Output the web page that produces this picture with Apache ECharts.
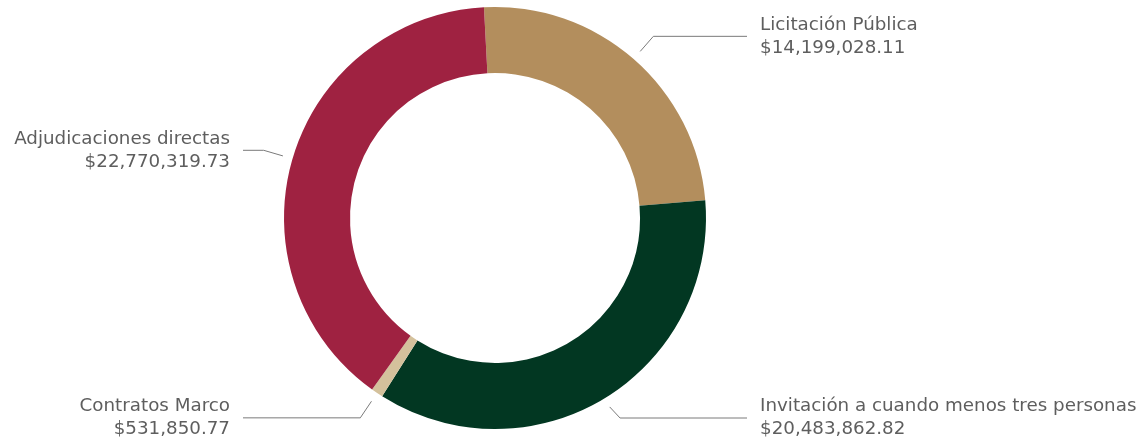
<!DOCTYPE html>
<html>
<head>
<meta charset="utf-8">
<script src="https://cdn.jsdelivr.net/npm/echarts@6/dist/echarts.min.js"></script>
<style>
html, body { margin: 0; padding: 0; background: #fff; }
#chart { width: 1141px; height: 442px; }
</style>
</head>
<body>
<div id="chart"></div>
<script>
// tipos de procedimiento y montos
var categories = ['Licitación Pública', 'Invitación a cuando menos tres personas', 'Contratos Marco', 'Adjudicaciones directas'];
var amounts = [14199028.11, 20483862.82, 531850.77, 22770319.73];
var colors = ['#B38E5D', '#023722', '#D4C19C', '#9F2241'];

var startAngle = 93;
var labelR = 221, lineLen = 20, lineReach = 252;

function money(v) {
    return '$' + v.toLocaleString('en-US', {minimumFractionDigits: 2, maximumFractionDigits: 2});
}

// largo del tramo horizontal para que todas las lineas de un lado terminen igual
var total = amounts.reduce(function (a, b) { return a + b; }, 0);
var acc = 0;
var pieData = [], labelData = [];
for (var i = 0; i < categories.length; i++) {
    var mid = (startAngle - 360 * (acc + amounts[i] / 2) / total) * Math.PI / 180;
    acc += amounts[i];
    var bendX = Math.abs(Math.cos(mid)) * (labelR + lineLen);
    pieData.push({name: categories[i], value: amounts[i], itemStyle: {color: colors[i]}});
    labelData.push({
        name: categories[i],
        value: amounts[i],
        labelLine: {length2: Math.max(lineReach - bendX, 0)}
    });
}

var myChart = echarts.init(document.getElementById('chart'));
myChart.setOption({
    animation: false,
    series: [{
        type: 'pie',
        center: [495, 218],
        radius: [145, 211],
        startAngle: startAngle,
        clockwise: true,
        silent: true,
        label: {show: false},
        labelLine: {show: false},
        data: pieData
    }, {
        // solo etiquetas, un poco separadas del anillo
        type: 'pie',
        center: [495, 218],
        radius: [0, labelR],
        startAngle: startAngle,
        clockwise: true,
        silent: true,
        itemStyle: {color: 'rgba(0,0,0,0)'},
        label: {
            show: true,
            position: 'outside',
            bleedMargin: 0,
            distanceToLabelLine: 13,
            fontFamily: 'DejaVu Sans',
            fontSize: 18.3,
            lineHeight: 23,
            color: '#5e5e5e',
            formatter: function (p) {
                return p.name + '\n' + money(p.value);
            }
        },
        labelLine: {
            show: true,
            length: lineLen,
            lineStyle: {color: '#7a7a7a', width: 1}
        },
        data: labelData
    }]
});

window.onresize = function () {
    myChart.resize();
};
</script>
</body>
</html>
